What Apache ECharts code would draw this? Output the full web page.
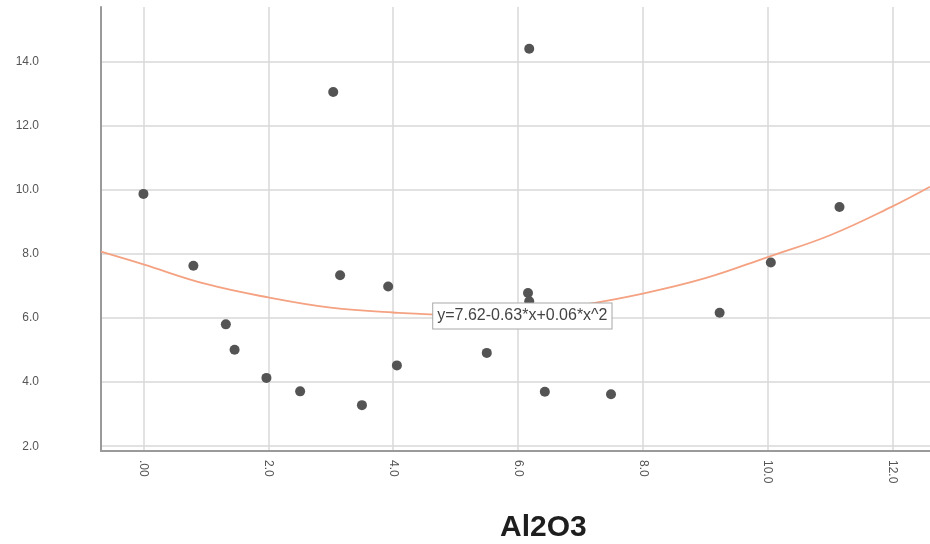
<!DOCTYPE html>
<html>
<head>
<meta charset="utf-8">
<script src="https://cdn.jsdelivr.net/npm/echarts@6/dist/echarts.min.js"></script>
<style>html,body{margin:0;padding:0;background:#fff}#c{width:930px;height:544px}</style>
</head>
<body>
<div id="c"></div>
<script>
// Scatter points (x = Al2O3, y = response)
var al2o3 = [0.00, 0.80, 1.32, 1.46, 1.97, 2.51, 3.04, 3.15, 3.50, 3.92, 4.06, 5.50, 6.16, 6.18, 6.18, 6.43, 7.49, 9.23, 10.05, 11.15];
var yValues = [9.87, 7.63, 5.80, 5.01, 4.13, 3.71, 13.05, 7.33, 3.28, 6.98, 4.52, 4.91, 6.78, 6.52, 14.40, 3.70, 3.62, 6.16, 7.73, 9.46];
// Quadratic fit line
var fitX = [-0.68, 0, 1, 2, 3, 4, 5, 6, 7, 8, 9, 10, 11, 12, 12.6];
var fitY = [8.07, 7.67, 7.06, 6.64, 6.32, 6.17, 6.10, 6.18, 6.40, 6.76, 7.24, 7.90, 8.58, 9.48, 10.09];
var fitLabel = 'y=7.62-0.63*x+0.06*x^2';
var fitLabelPos = [6.07, 6.06];
var xTicks = [0, 2, 4, 6, 8, 10, 12];
var xTickLabels = ['.00', '2.0', '4.0', '6.0', '8.0', '10.0', '12.0'];
var yTicks = [2, 4, 6, 8, 10, 12, 14];
var yTickLabels = ['2.0', '4.0', '6.0', '8.0', '10.0', '12.0', '14.0'];
var axisTitle = 'Al2O3';

var chart = echarts.init(document.getElementById('c'), null, {renderer: 'canvas'});
var font = '"Liberation Sans", Arial, sans-serif';
var gridColor = '#d8d8d8';
var pts = al2o3.map(function (x, i) { return [x, yValues[i]]; });
var fit = fitX.map(function (x, i) { return [x, fitY[i]]; });

chart.setOption({
  animation: false,
  backgroundColor: '#ffffff',
  grid: {left: 101, right: 0, top: 7, bottom: 93},
  xAxis: {
    type: 'value', min: -0.68, max: 12.6,
    axisLine: {show: true, onZero: false, lineStyle: {color: '#9a9a9a', width: 2}},
    axisTick: {show: false},
    splitLine: {show: false},
    axisLabel: {
      customValues: xTicks,
      rotate: -90, margin: 9, fontSize: 12, color: '#555', fontFamily: font,
      formatter: function (v) { var i = xTicks.indexOf(v); return i >= 0 ? xTickLabels[i] : ''; }
    }
  },
  yAxis: {
    type: 'value', min: 1.85, max: 15.7,
    axisLine: {show: true, onZero: false, lineStyle: {color: '#9a9a9a', width: 2}},
    axisTick: {show: false},
    splitLine: {show: false},
    axisLabel: {
      customValues: yTicks,
      margin: 62, fontSize: 12, color: '#555', fontFamily: font,
      formatter: function (v) { var i = yTicks.indexOf(v); return i >= 0 ? yTickLabels[i] : ''; }
    }
  },
  graphic: [{
    type: 'text', left: 500, top: 513, z: 100,
    style: {text: axisTitle, font: 'bold 30px ' + font, fill: '#1e1e1e'}
  }],
  series: [
    {
      type: 'line', silent: true, data: [], z: 0,
      markLine: {
        silent: true, symbol: 'none', label: {show: false}, z: 0,
        lineStyle: {color: gridColor, width: 1.5, type: 'solid'},
        data: xTicks.map(function (v) { return {xAxis: v}; }).concat(yTicks.map(function (v) { return {yAxis: v}; }))
      }
    },
    {
      type: 'line', data: fit, smooth: 0.4, showSymbol: false, symbol: 'none', z: 3,
      lineStyle: {color: '#f4a282', width: 1.8}
    },
    {
      type: 'scatter', data: pts, symbol: 'circle', symbolSize: 10, z: 5,
      itemStyle: {color: '#545454', opacity: 1}
    },
    {
      type: 'line', data: [], z: 8, silent: true,
      markPoint: {
        z: 10, symbol: 'rect', symbolSize: 1,
        itemStyle: {color: 'rgba(0,0,0,0)'},
        label: {
          show: true, position: 'inside', formatter: fitLabel,
          fontSize: 16, fontFamily: font, color: '#444',
          backgroundColor: '#fff', borderColor: '#a8a8a8', borderWidth: 1, padding: [5, 4, 4, 4]
        },
        data: [{coord: fitLabelPos}]
      }
    }
  ]
});
</script>
</body>
</html>
